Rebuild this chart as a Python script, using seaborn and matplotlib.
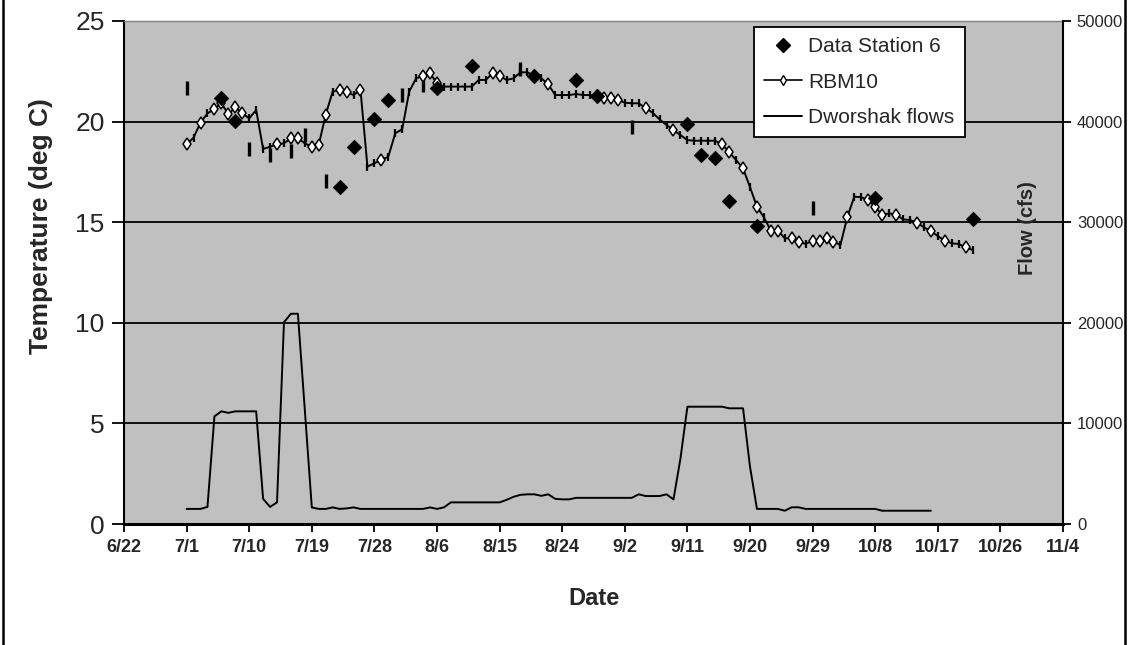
import numpy as np
import pandas as pd
import matplotlib
matplotlib.use("Agg")
import matplotlib.pyplot as plt
from matplotlib.lines import Line2D
import seaborn as sns

# ---------------- data ----------------
axis_start = "2001-06-22"
axis_end = "2001-11-04"
tick_labels = ["6/22", "7/1", "7/10", "7/19", "7/28", "8/6", "8/15", "8/24",
               "9/2", "9/11", "9/20", "9/29", "10/8", "10/17", "10/26", "11/4"]

# Data Station 6 (observed temperature, deg C)
station_dates = ["2001-07-06", "2001-07-08", "2001-07-23", "2001-07-25", "2001-07-28",
                 "2001-07-30", "2001-08-06", "2001-08-11", "2001-08-20", "2001-08-26",
                 "2001-08-29", "2001-09-11", "2001-09-13", "2001-09-15", "2001-09-17",
                 "2001-09-21", "2001-10-08", "2001-10-22"]
station_vals = [21.16, 20.03, 16.77, 18.75, 20.15, 21.07, 21.69, 22.76, 22.27, 22.07,
                21.27, 19.88, 18.34, 18.18, 16.07, 14.81, 16.19, 15.14]

# RBM10 modelled temperature, daily from 7/1
rbm_start = "2001-07-01"
rbm_vals = [18.87, 19.20, 19.95, 20.41, 20.63, 20.92, 20.36, 20.71, 20.41, 20.16,
            20.58, 18.64, 18.75, 18.87, 18.92, 19.17, 19.17, 18.92, 18.75, 18.84,
            20.35, 21.49, 21.57, 21.46, 21.32, 21.57, 17.76, 17.93, 18.09, 18.26,
            19.42, 19.62, 21.49, 22.15, 22.27, 22.40, 21.90, 21.74, 21.74, 21.74,
            21.74, 21.74, 22.07, 22.07, 22.40, 22.28, 22.07, 22.15, 22.45, 22.45,
            22.27, 22.15, 21.85, 21.32, 21.32, 21.32, 21.37, 21.32, 21.32, 21.25,
            21.16, 21.16, 21.07, 20.94, 20.91, 20.91, 20.66, 20.44, 20.11, 19.83,
            19.58, 19.33, 19.08, 19.05, 19.05, 19.05, 19.05, 18.87, 18.48, 18.09,
            17.68, 16.74, 15.77, 15.24, 14.58, 14.58, 14.20, 14.20, 14.03, 13.92,
            14.08, 14.08, 14.20, 14.03, 13.87, 15.27, 16.27, 16.24, 16.10, 15.76,
            15.36, 15.44, 15.38, 15.14, 15.11, 14.98, 14.75, 14.56, 14.31, 14.08,
            13.95, 13.92, 13.75, 13.62]
# days on which the RBM10 point shows a diamond (others show a dash)
rbm_diamond_dates = ["2001-07-01", "2001-07-03", "2001-07-05", "2001-07-06", "2001-07-07",
                     "2001-07-08", "2001-07-09", "2001-07-14", "2001-07-16", "2001-07-17",
                     "2001-07-19", "2001-07-20", "2001-07-21", "2001-07-23", "2001-07-24",
                     "2001-07-26", "2001-07-29", "2001-08-04", "2001-08-05", "2001-08-06",
                     "2001-08-14", "2001-08-15", "2001-08-20", "2001-08-22", "2001-08-29",
                     "2001-08-30", "2001-08-31", "2001-09-01", "2001-09-05", "2001-09-09",
                     "2001-09-16", "2001-09-17", "2001-09-19", "2001-09-21", "2001-09-23",
                     "2001-09-24", "2001-09-26", "2001-09-27", "2001-09-29", "2001-09-30",
                     "2001-10-01", "2001-10-02", "2001-10-04", "2001-10-07", "2001-10-08",
                     "2001-10-09", "2001-10-11", "2001-10-14", "2001-10-16", "2001-10-18",
                     "2001-10-21"]

# isolated dash marks
dash_dates = ["2001-07-01", "2001-07-10", "2001-07-13", "2001-07-16", "2001-07-18",
              "2001-07-21", "2001-08-01", "2001-08-04", "2001-08-18", "2001-09-03",
              "2001-09-29"]
dash_vals = [21.67, 18.64, 18.35, 18.55, 19.33, 17.05, 21.32, 21.84, 22.6, 19.75, 15.73]

# Dworshak flows (cfs), daily from 7/1
flow_start = "2001-07-01"
flow_vals = [1500, 1500, 1500, 1700, 10700, 11200, 11050, 11200, 11200, 11200,
             11200, 2500, 1700, 2150, 20050, 20900, 20900, 11300, 1650, 1500,
             1500, 1650, 1500, 1550, 1650, 1500, 1500, 1500, 1500, 1500,
             1500, 1500, 1500, 1500, 1500, 1650, 1500, 1650, 2150, 2150,
             2150, 2150, 2150, 2150, 2150, 2150, 2400, 2700, 2900, 2950,
             2950, 2800, 2950, 2500, 2450, 2450, 2600, 2600, 2600, 2600,
             2600, 2600, 2600, 2600, 2600, 2950, 2780, 2780, 2780, 2950,
             2450, 6500, 11660, 11660, 11660, 11660, 11660, 11660, 11500, 11500,
             11500, 5700, 1500, 1500, 1500, 1500, 1320, 1660, 1660, 1500,
             1500, 1500, 1500, 1500, 1500, 1500, 1500, 1500, 1500, 1500,
             1320, 1320, 1320, 1320, 1320, 1320, 1320, 1320]

# ---------------- frames ----------------
station = pd.DataFrame({"date": pd.to_datetime(station_dates), "temp": station_vals})
rbm = pd.DataFrame({"date": pd.date_range(rbm_start, periods=len(rbm_vals), freq="D"),
                    "temp": rbm_vals})
rbm["diamond"] = rbm["date"].isin(pd.to_datetime(rbm_diamond_dates))
dash = pd.DataFrame({"date": pd.to_datetime(dash_dates), "temp": dash_vals})
flow = pd.DataFrame({"date": pd.date_range(flow_start, periods=len(flow_vals), freq="D"),
                     "flow": flow_vals})

# ---------------- style ----------------
sns.set_style("white")
plt.rcParams["font.family"] = ["Liberation Sans", "DejaVu Sans"]

W, H = 1129, 645
fig = plt.figure(figsize=(W / 100, H / 100), dpi=100)
L, R, T, B = 124, 1063, 21, 524
ax = fig.add_axes([L / W, 1 - B / H, (R - L) / W, (B - T) / H])
ax.set_facecolor("#C0C0C0")

# gridlines
ax.set_axisbelow(True)
ax.yaxis.grid(True, color="black", linewidth=1.3)
ax.xaxis.grid(False)

# RBM10 line and markers
sns.lineplot(data=rbm, x="date", y="temp", ax=ax, color="black", linewidth=1.4,
             estimator=None, legend=False, zorder=3)
dd = rbm[~rbm["diamond"]]
ax.plot(dd["date"], dd["temp"], ls="none", marker="|", color="black",
        ms=6, mew=1.6, zorder=4)
di = rbm[rbm["diamond"]]
ax.plot(di["date"], di["temp"], ls="none", marker="d", mfc="white", mec="black",
        ms=6.5, mew=1.1, zorder=5)

# isolated dashes
ax.plot(dash["date"], dash["temp"], ls="none", marker="|", color="black",
        ms=9.5, mew=2.4, zorder=4)

# station points
sns.scatterplot(data=station, x="date", y="temp", ax=ax, marker="D", s=55,
                color="black", edgecolor="black", linewidth=0.5, zorder=6, legend=False)

ax.set_ylim(0, 25)
ax.set_yticks([0, 5, 10, 15, 20, 25])
x0, x1 = pd.Timestamp(axis_start), pd.Timestamp(axis_end)
ax.set_xlim(x0, x1)
ax.set_xticks(pd.date_range(x0, x1, freq="9D"))
ax.set_xticklabels(tick_labels, fontsize=13, fontweight="bold")
ax.tick_params(axis="y", direction="out", length=9, width=1.3, labelsize=19, pad=5,
               left=True, color="black")
ax.tick_params(axis="x", direction="out", length=6, width=1.3, pad=5, bottom=True,
               color="black")

for s in ["left", "bottom"]:
    ax.spines[s].set_visible(True)
    ax.spines[s].set_color("black")
ax.spines["left"].set_linewidth(1.5)
ax.spines["bottom"].set_linewidth(2.2)
ax.spines["top"].set_color("#808080")
ax.spines["top"].set_linewidth(1.0)
ax.spines["right"].set_visible(False)

ax.set_ylabel("Temperature (deg C)", fontsize=19, fontweight="bold")
ax.yaxis.set_label_coords((53 - L) / (R - L), (B - 226) / (B - T))
ax.set_xlabel("Date", fontsize=17, fontweight="bold")
ax.xaxis.set_label_coords(0.5, (B - 587) / (B - T))

# flow axis
ax2 = ax.twinx()
sns.lineplot(data=flow, x="date", y="flow", ax=ax2, color="black", linewidth=1.4,
             estimator=None, legend=False)
ax2.set_ylim(0, 50000)
ax2.set_yticks([0, 10000, 20000, 30000, 40000, 50000])
ax2.set_xlim(x0, x1)
ax2.tick_params(axis="y", direction="out", length=6, width=1.3, labelsize=12, pad=4,
                right=True, color="black")
for s in ["left", "top", "bottom"]:
    ax2.spines[s].set_visible(False)
ax2.spines["right"].set_visible(True)
ax2.spines["right"].set_color("black")
ax2.spines["right"].set_linewidth(1.5)
ax2.set_ylabel("Flow (cfs)", fontsize=14.5, fontweight="bold")
ax2.yaxis.set_label_coords((1018 - L) / (R - L), (B - 228) / (B - T))
ax2.grid(False)

# legend
handles = [Line2D([], [], ls="none", marker="D", color="black", ms=7),
           Line2D([], [], color="black", lw=1.2, marker="d", mfc="white", mec="black", ms=5.5),
           Line2D([], [], color="black", lw=1.4)]
labels = ["Data Station 6", "RBM10", "Dworshak flows"]
leg = ax2.legend(handles, labels, loc="upper left",
                 bbox_to_anchor=(754 / W, 1 - 27 / H), bbox_transform=fig.transFigure,
                 frameon=True, fancybox=False, framealpha=1, edgecolor="black",
                 fontsize=15, borderaxespad=0, borderpad=0.5, handlelength=1.8,
                 handletextpad=0.3, labelspacing=0.78)
leg.get_frame().set_linewidth(1.3)
leg.set_zorder(20)

# outer chart border (left and right edges visible in the crop)
for xe in (3 / W, 1125 / W):
    fig.add_artist(Line2D([xe, xe], [0, 1], transform=fig.transFigure,
                          color="black", linewidth=1.8))

fig.savefig("out.png", dpi=100)
